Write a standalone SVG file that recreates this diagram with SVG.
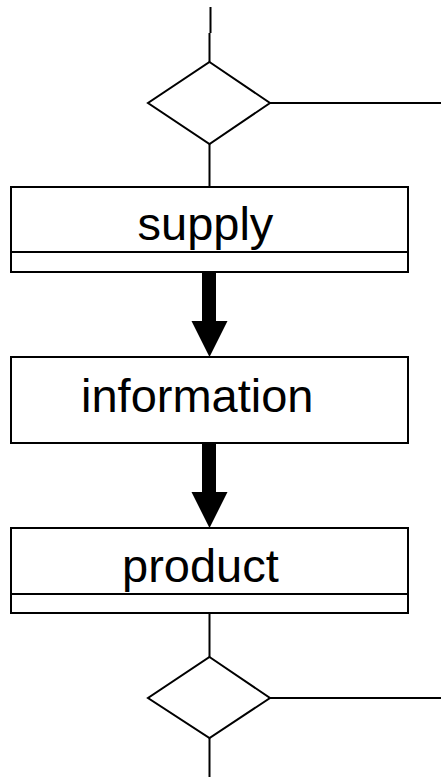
<svg xmlns="http://www.w3.org/2000/svg" width="441" height="777" viewBox="0 0 441 777">
<style>
.ln{fill:none;stroke:#000;stroke-width:2}
.bx{fill:#fff;stroke:#000;stroke-width:2}
.t{font-family:"Liberation Sans",Arial,sans-serif;font-size:47px;fill:#000}
.sh{fill:#000}
</style>
<g id="connectors">
<path class="ln" d="M210.5 7V33M209.5 33V62"/>
<path class="ln" d="M270 103H441"/>
<path class="ln" d="M209.5 144V187"/>
<rect class="sh" x="202" y="272" width="14" height="50"/>
<polygon class="sh" points="191.5,321 227.5,321 209.5,357"/>
<rect class="sh" x="202" y="443" width="14" height="50"/>
<polygon class="sh" points="191.5,492 227.5,492 209.5,528"/>
<path class="ln" d="M209.5 613V657"/>
<path class="ln" d="M270 698H441"/>
<path class="ln" d="M209.5 738V777"/>
</g>
<g id="decision1">
<polygon class="bx" points="209.5,62 270,103 209.5,144 148,103"/>
</g>
<g id="supply">
<rect class="bx" x="11" y="187" width="397" height="85"/>
<line class="ln" x1="11" y1="252" x2="408" y2="252"/>
<text class="t" x="137.5" y="240">supply</text>
</g>
<g id="information">
<rect class="bx" x="11" y="357" width="397" height="86"/>
<text class="t" x="81" y="412">information</text>
</g>
<g id="product">
<rect class="bx" x="11" y="528" width="397" height="85"/>
<line class="ln" x1="11" y1="594" x2="408" y2="594"/>
<text class="t" x="122" y="582">product</text>
</g>
<g id="decision2">
<polygon class="bx" points="209.5,657 270,698 209.5,738 148,698"/>
</g>
</svg>
